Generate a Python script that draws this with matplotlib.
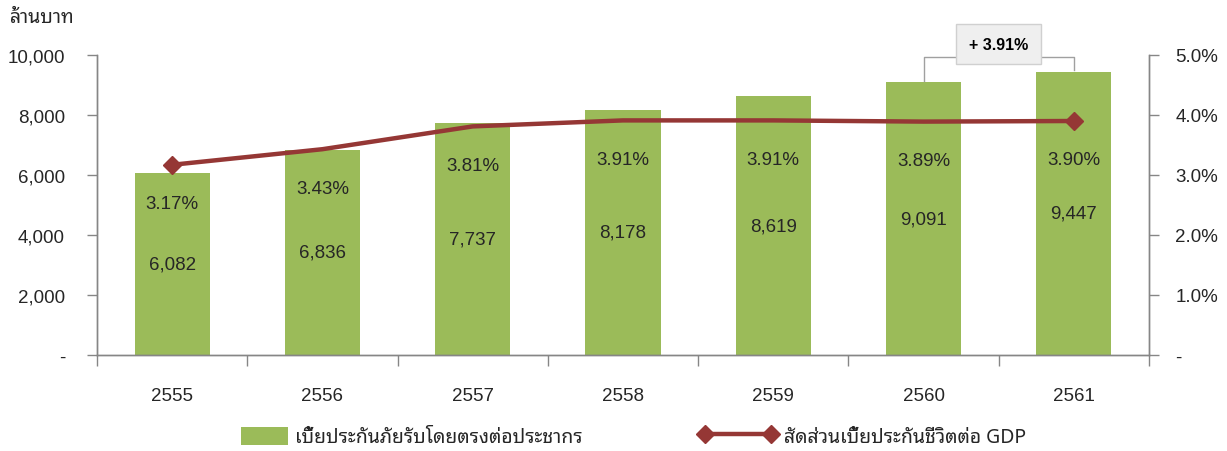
import matplotlib
matplotlib.use("Agg")
import matplotlib.pyplot as plt
import matplotlib.font_manager as fm
from matplotlib.ft2font import FT2Font
from matplotlib.lines import Line2D
from matplotlib.patches import Patch, Rectangle
from matplotlib.legend_handler import HandlerPatch

# ---------------- data ----------------
years = ["2555", "2556", "2557", "2558", "2559", "2560", "2561"]
premium = [6082, 6836, 7737, 8178, 8619, 9091, 9447]          # ล้านบาท
ratio_gdp = [3.17, 3.43, 3.81, 3.91, 3.91, 3.89, 3.90]        # %
left_ticks = [0, 2000, 4000, 6000, 8000, 10000]
left_ticklabels = ["-", "2,000", "4,000", "6,000", "8,000", "10,000"]
right_ticks = [0, 1, 2, 3, 4, 5]
right_ticklabels = ["-", "1.0%", "2.0%", "3.0%", "4.0%", "5.0%"]
unit_label = "ล้านบาท"
bar_legend = "เบี้ยประกันภัยรับโดยตรงต่อประชากร"
line_legend = "สัดส่วนเบี้ยประกันชีวิตต่อ GDP"
growth_label = "+ 3.91%"

# ---------------- fonts ----------------
def find_thai_font():
    prefs = ["noto sans thai", "loma", "garuda", "sawasdee", "umpush", "kinnari", "norasi", "tlwg"]
    found = []
    for f in fm.findSystemFonts():
        try:
            cm = FT2Font(f).get_charmap()
            if 0x0E01 in cm and 0x0E49 in cm:
                found.append(f)
        except Exception:
            pass
    if not found:
        return None
    def score(f):
        low = f.lower().replace(" ", "").replace("-", "").replace("_", "")
        for i, p in enumerate(prefs):
            if p.replace(" ", "") in low:
                return i
        return len(prefs)
    found.sort(key=score)
    return found[0]

thai_file = find_thai_font()
base = "Liberation Sans"
if thai_file:
    fm.fontManager.addfont(thai_file)
    thai_name = fm.FontProperties(fname=thai_file).get_name()
    thai_family = [thai_name, base, "DejaVu Sans"]
else:
    thai_family = [base, "DejaVu Sans"]
plt.rcParams["font.family"] = [base, "DejaVu Sans"]

green = "#9BBB59"
red = "#953735"
axis_col = "#868686"
text_col = "#262626"

fig = plt.figure(figsize=(12.27, 4.52), dpi=100)
ax = fig.add_axes([97 / 1227, 1 - 356 / 452, (1149 - 97) / 1227, 300 / 452])
ax2 = ax.twinx()

x = list(range(len(years)))
ax.bar(x, premium, width=0.5, color=green, zorder=2)
ax.set_xlim(-0.5, len(years) - 0.5)
ax.set_ylim(0, 10000)
ax2.set_ylim(0, 5)

ax2.plot(x, ratio_gdp, color=red, lw=3.2, zorder=3, solid_capstyle="round")
ax2.plot([x[0], x[-1]], [ratio_gdp[0], ratio_gdp[-1]], ls="none", marker="D",
         ms=9, color=red, zorder=4)

# axes styling
for a in (ax, ax2):
    a.spines["top"].set_visible(False)
    for s in ("left", "right", "bottom"):
        a.spines[s].set_color(axis_col)
        a.spines[s].set_linewidth(1)
ax.set_yticks(left_ticks)
ax.set_yticklabels(left_ticklabels)
ax2.set_yticks(right_ticks)
ax2.set_yticklabels(right_ticklabels)
ax.tick_params(axis="y", direction="out", length=7, width=1, color=axis_col,
               labelsize=13.5, labelcolor=text_col, pad=16)
ax2.tick_params(axis="y", direction="out", length=7, width=1, color=axis_col,
                labelsize=13.5, labelcolor=text_col, pad=12)
ax.set_xticks(x)
ax.set_xticklabels(years)
ax.set_xticks([i - 0.5 for i in range(len(years) + 1)], minor=True)
ax.tick_params(axis="x", which="major", length=0, labelsize=13.5, labelcolor=text_col, pad=23)
ax.tick_params(axis="x", which="minor", direction="out", length=8, width=1, color=axis_col)

# data labels
for xi, v in zip(x, premium):
    ax.text(xi, v / 2, f"{v:,}", ha="center", va="center", fontsize=13.5, color=text_col, zorder=5)
for xi, r in zip(x, ratio_gdp):
    ax2.annotate(f"{r:.2f}%", (xi, r), xytext=(0, -28), textcoords="offset points",
                 ha="center", va="center", fontsize=13.5, color=text_col, zorder=5)

# growth bracket between last two bars
i0, i1 = len(years) - 2, len(years) - 1
top_y = 10000 * (356 - 58) / 300
box_y = 10000 * (356 - 45) / 300
ax.plot([x[i0], x[i0], x[i1], x[i1]],
        [premium[i0] + 40, top_y, top_y, premium[i1] + 40],
        color="#A0A0A0", lw=1, clip_on=False, zorder=4)
ax.text((x[i0] + x[i1]) / 2, box_y, growth_label, ha="center", va="center",
        fontsize=11.5, fontweight="bold", color="black", zorder=6, clip_on=False,
        bbox=dict(boxstyle="square,pad=0.8", fc="#EFEFEF", ec="#D0D0D0", lw=1))

# unit label
fig.text(10 / 1227, 1 - 18 / 452, unit_label, family=thai_family, fontsize=14,
         color=text_col, va="center", ha="left")

# legend
class NarrowPatch(HandlerPatch):
    def create_artists(self, legend, orig_handle, xdescent, ydescent, width, height, fontsize, trans):
        w = width * 0.6
        p = Rectangle((-xdescent + width - w, -ydescent), w, height,
                      facecolor=orig_handle.get_facecolor(), edgecolor="none", transform=trans)
        return [p]

handles = [Patch(facecolor=green, edgecolor="none"),
           Line2D([0], [0], color=red, lw=3.2, marker="D", ms=9)]
leg = fig.legend(handles, [bar_legend, line_legend], loc="center",
                 bbox_to_anchor=(618 / 1227, 1 - 438 / 452), ncol=2, frameon=False,
                 prop=fm.FontProperties(family=thai_family, size=14),
                 handlelength=4.0, handleheight=1.1, numpoints=2,
                 columnspacing=6.0, handletextpad=0.35, labelcolor=text_col,
                 handler_map={Patch: NarrowPatch()})

fig.savefig("out.png", dpi=100)
